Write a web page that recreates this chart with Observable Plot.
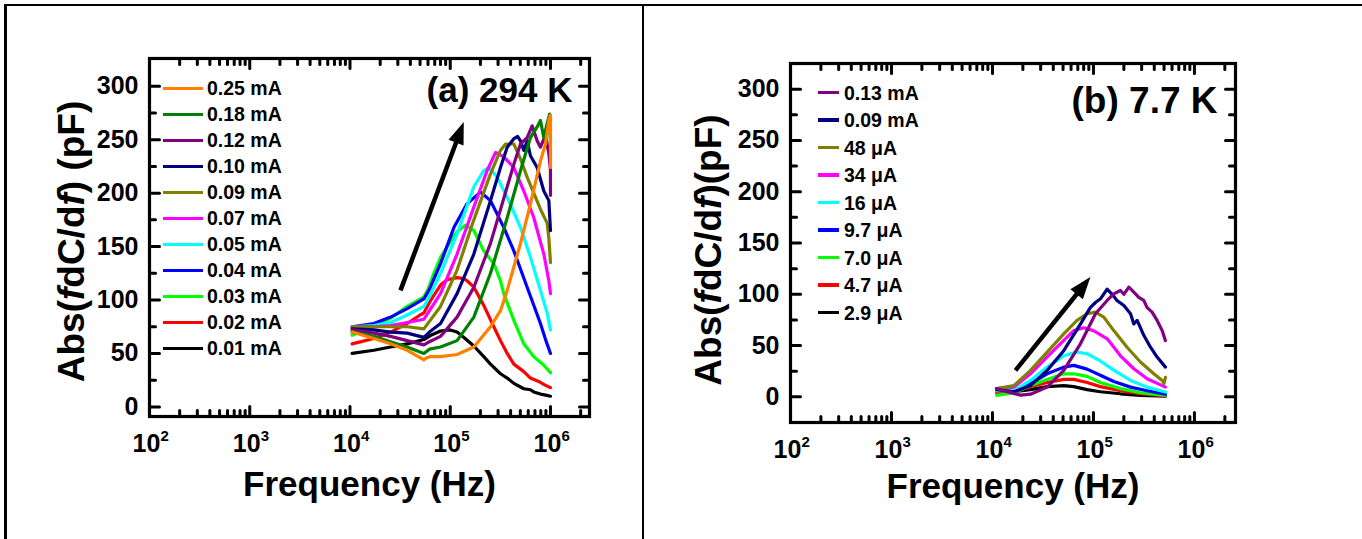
<!DOCTYPE html>
<html><head><meta charset="utf-8">
<script src="https://cdn.jsdelivr.net/npm/d3@7"></script>
<script src="https://cdn.jsdelivr.net/npm/@observablehq/plot@0.6"></script>
<style>
body{margin:0;background:#fff;}
#wrap{position:relative;width:1362px;height:539px;overflow:hidden;background:#fff;font-family:"Liberation Sans",Arial,Helvetica,sans-serif;font-weight:bold;color:#000;}
.panel{position:absolute;top:0;}
.bl{position:absolute;background:#000;}
</style></head>
<body><div id="wrap"></div>
<script>
// ---------- tick labels ----------
const xTickExponents = [2, 3, 4, 5, 6];
const yTicks = [0, 50, 100, 150, 200, 250, 300];

// ---------- Panel (a) 294 K ----------
const aLabels = ["0.25 mA","0.18 mA","0.12 mA","0.10 mA","0.09 mA","0.07 mA","0.05 mA","0.04 mA","0.03 mA","0.02 mA","0.01 mA"];
const aColors = ["#FF8000","#008000","#800080","#000080","#808000","#FF00FF","#00FFFF","#0000FF","#00FF00","#FF0000","#000000"];
const a025 = [[1.05e4,70],[1.73e4,64],[2.54e4,59],[3.72e4,53],[5.46e4,44],[5.8e4,46],[6.37e4,47],[8.0e4,47],[1.17e5,49],[1.72e5,56],[2.52e5,75],[3.17e5,90],[3.70e5,109],[5.02e5,153],[6.31e5,190],[7.94e5,230],[8.91e5,246],[9.63e5,268],[1.0e6,273],[1.0e6,224]];
const a018 = [[1.05e4,70],[1.73e4,66],[2.54e4,61],[3.72e4,56],[5.46e4,50],[6.2e4,54],[8.0e4,56],[1.17e5,62],[1.72e5,84],[2.52e5,125],[3.70e5,177],[5.02e5,221],[6.31e5,252],[7.36e5,262],[7.94e5,268],[8.58e5,252],[9.26e5,265],[9.8e5,274],[1.0e6,245]];
const a012 = [[1.05e4,72],[1.73e4,69],[2.54e4,66],[3.72e4,62],[5.46e4,58],[6.2e4,61],[8.0e4,66],[1.17e5,84],[1.72e5,112],[2.52e5,153],[3.70e5,206],[4.31e5,227],[5.02e5,246],[5.85e5,252],[6.56e5,263],[7.36e5,249],[7.94e5,243],[8.91e5,254],[9.63e5,237],[1.0e6,221],[1.0e6,198]];
const a010 = [[1.05e4,73],[1.73e4,72],[2.54e4,70],[3.72e4,69],[5.46e4,65],[6.2e4,70],[8.0e4,78],[1.17e5,106],[1.72e5,143],[2.52e5,193],[3.17e5,224],[3.70e5,243],[4.31e5,251],[4.7e5,253],[5.02e5,249],[5.42e5,240],[5.85e5,249],[6.31e5,235],[7.36e5,224],[8.58e5,202],[9.63e5,193],[1.0e6,165]];
const a009 = [[1.05e4,75],[1.73e4,75],[2.54e4,75],[3.72e4,75],[5.46e4,73],[6.2e4,80],[8.0e4,94],[1.17e5,128],[1.72e5,175],[2.52e5,218],[3.17e5,240],[3.56e5,246],[4.31e5,246],[5.02e5,232],[5.85e5,215],[6.82e5,200],[7.94e5,185],[9.26e5,172],[9.63e5,158],[1.0e6,135]];
const a007 = [[1.05e4,75],[1.73e4,75],[2.54e4,76],[3.72e4,79],[5.46e4,82],[6.2e4,90],[8.0e4,106],[1.17e5,143],[1.72e5,187],[2.33e5,221],[2.83e5,238],[3.42e5,234],[4.31e5,224],[5.42e5,202],[6.82e5,177],[8.58e5,143],[9.63e5,118],[1.0e6,106]];
const a005 = [[1.05e4,75],[1.73e4,76],[2.54e4,79],[3.72e4,86],[5.46e4,94],[6.2e4,103],[8.0e4,125],[1.17e5,162],[1.72e5,206],[2.16e5,221],[2.43e5,224],[2.94e5,215],[3.70e5,196],[5.02e5,168],[6.31e5,140],[7.94e5,109],[9.26e5,88],[1.0e6,72]];
const a004 = [[1.05e4,75],[1.73e4,78],[2.54e4,84],[3.72e4,92],[5.46e4,101],[6.2e4,110],[8.0e4,134],[1.09e5,168],[1.47e5,190],[2.0e5,201],[2.52e5,193],[3.42e5,168],[4.31e5,146],[5.85e5,112],[7.94e5,78],[9.0e5,62],[1.0e6,50]];
const a003 = [[1.05e4,67],[1.73e4,75],[2.54e4,83],[3.72e4,94],[5.46e4,103],[6.0e4,110],[6.87e4,125],[8.0e4,140],[9.33e4,150],[1.17e5,164],[1.42e5,170],[1.72e5,165],[2.16e5,146],[2.72e5,134],[3.17e5,118],[3.42e5,106],[4.31e5,81],[5.42e5,59],[6.82e5,47],[8.58e5,39],[1.0e6,32]];
const a002 = [[1.05e4,59],[1.73e4,64],[2.54e4,70],[3.72e4,78],[5.0e4,86],[5.46e4,88],[6.4e4,100],[8.0e4,114],[9.3e4,119],[1.17e5,121],[1.37e5,120],[1.47e5,118],[1.72e5,112],[2.16e5,95],[2.72e5,75],[3.17e5,62],[3.70e5,50],[4.31e5,40],[5.42e5,33],[6.31e5,27],[7.94e5,23],[9.0e5,20],[1.0e6,18]];
const a001 = [[1.05e4,50],[1.73e4,53],[2.54e4,56],[3.72e4,59],[5.46e4,63],[6.4e4,67],[8.0e4,71],[1.0e5,72],[1.17e5,70],[1.37e5,65],[1.72e5,57],[2.16e5,47],[2.52e5,40],[3.17e5,31],[3.70e5,27],[4.31e5,22],[5.42e5,17],[6.31e5,16],[6.8e5,14],[7.94e5,12],[9.0e5,11],[1.0e6,10]];
const aSeries = [a025, a018, a012, a010, a009, a007, a005, a004, a003, a002, a001];
const aArrow = [{x1: 3.19e4, y1: 109, x2: 1.365e5, y2: 266.5}];

// ---------- Panel (b) 7.7 K ----------
const bLabels = ["0.13 mA","0.09 mA","48 \u03bcA","34 \u03bcA","16 \u03bcA","9.7 \u03bcA","7.0 \u03bcA","4.7 \u03bcA","2.9 \u03bcA"];
const bColors = ["#800080","#000080","#808000","#FF00FF","#00FFFF","#0000FF","#00FF00","#FF0000","#000000"];
const b013 = [[1.1e4,8],[1.4e4,5],[1.9e4,1.6],[2.38e4,2.6],[3.48e4,9.5],[5.08e4,25.8],[7.43e4,51.7],[1.047e5,81],[1.366e5,94],[1.59e5,100.4],[1.85e5,103.7],[2.0e5,100],[2.24e5,107],[2.51e5,102],[2.81e5,97],[3.15e5,94],[3.40e5,87],[3.81e5,82.6],[4.27e5,74.5],[4.79e5,64.6],[5.16e5,54.8]];
const b009 = [[1.1e4,7],[1.63e4,5],[2.38e4,11],[3.48e4,25.8],[5.08e4,45],[7.43e4,71],[9.3e4,87],[1.047e5,92],[1.173e5,95.6],[1.366e5,105],[1.53e5,100],[1.71e5,94],[2.0e5,89],[2.33e5,81],[2.51e5,71],[2.71e5,74.5],[3.15e5,60],[3.67e5,48.4],[4.27e5,38.8],[5.16e5,29]];
const b48 = [[1.1e4,8],[1.63e4,11],[2.38e4,25.8],[3.48e4,43.6],[5.08e4,61.4],[6.87e4,74.5],[8.65e4,81],[1.047e5,82.6],[1.264e5,77.8],[1.59e5,64.6],[2.15e5,48.4],[2.92e5,34],[3.96e5,22.5],[4.79e5,16],[5.0e5,13],[5.16e5,19]];
const b34 = [[1.1e4,8],[1.63e4,9.5],[2.38e4,22.5],[3.48e4,39],[5.08e4,55],[6.38e4,64.6],[8.0e4,67.3],[1.0e5,64.6],[1.37e5,56.6],[1.85e5,40],[2.51e5,27.4],[3.40e5,17.7],[5.16e5,9.5]];
const b16 = [[1.1e4,6],[1.63e4,6],[2.38e4,16],[3.48e4,29],[5.08e4,40],[6.87e4,43.6],[8.65e4,42],[1.17e5,35],[1.59e5,26],[2.33e5,16],[3.40e5,9.5],[5.16e5,4.7]];
const b97 = [[1.1e4,8],[1.63e4,6],[2.38e4,13],[3.48e4,22.5],[5.08e4,29],[6.38e4,30.7],[8.65e4,27],[1.17e5,21],[1.59e5,15],[2.33e5,9.5],[3.40e5,6],[5.16e5,2.5]];
const b70 = [[1.1e4,1.5],[1.63e4,4],[2.38e4,11],[3.48e4,17],[5.08e4,22.5],[6.38e4,22.5],[8.65e4,20],[1.17e5,14],[1.85e5,8],[2.92e5,4],[5.16e5,1.5]];
const b47 = [[1.1e4,4],[1.63e4,5],[2.38e4,10],[3.48e4,14],[5.08e4,17],[6.38e4,17],[8.65e4,14],[1.17e5,10],[1.85e5,6],[2.92e5,3],[5.16e5,1]];
const b29 = [[1.1e4,6],[1.63e4,5],[2.38e4,7],[3.48e4,10],[5.08e4,11],[6.38e4,10],[8.65e4,7],[1.17e5,5],[1.85e5,3],[2.92e5,1.5],[5.16e5,0.6]];
const bSeries = [b013, b009, b48, b34, b16, b97, b70, b47, b29];
const bArrow = [{x1: 1.69e4, y1: 25.8, x2: 9.33e4, y2: 116.8}];

// ---------- helpers ----------
const FONT = '"Liberation Sans", Arial, Helvetica, sans-serif';
function headSymbol(deg) {
  const a = deg * Math.PI / 180, c = Math.cos(a), s = Math.sin(a);
  const pts = [[0, 0], [-8, 22], [8, 22]].map(([px, py]) => [px * c - py * s, px * s + py * c]);
  return {draw(ctx) { ctx.moveTo(...pts[0]); ctx.lineTo(...pts[1]); ctx.lineTo(...pts[2]); ctx.closePath(); }};
}

function makePanel(cfg) {
  const fw = cfg.width - cfg.ml - cfg.mr, fh = cfg.height - cfg.mt - cfg.mb;
  const [xMin, xMax] = cfg.xDomain, [yMin, yMax] = cfg.yDomain;
  const ky = (yMax - yMin) / fh;
  const kx = Math.log10(xMax / xMin) / fw;
  const xMajor = xTickExponents.map(e => 10 ** e);
  const xMinor = [];
  for (const e of xTickExponents) for (let m = 2; m <= 9; m++) { const v = m * 10 ** e; if (v < xMax * 0.98) xMinor.push(v); }
  const yMinor = d3.range(-25, yMax, 50).filter(v => v > yMin + 2 && v < yMax - 2);
  const tk = {stroke: "#000", strokeWidth: 3, strokeLinecap: "round"};
  const MAJ = 10, MIN = 6;
  const marks = [];
  for (let i = cfg.series.length - 1; i >= 0; i--) {
    marks.push(Plot.line(cfg.series[i], {x: d => d[0], y: d => d[1], stroke: cfg.colors[i], strokeWidth: 3.2, strokeLinejoin: "round"}));
  }
  marks.push(
    Plot.frame({stroke: "#000", strokeWidth: 3.2}),
    // inward ticks on all four sides
    Plot.link(xMajor, {x1: d => d, x2: d => d, y1: () => yMin, y2: () => yMin + MAJ * ky, ...tk}),
    Plot.link(xMajor, {x1: d => d, x2: d => d, y1: () => yMax - MAJ * ky, y2: () => yMax, ...tk}),
    Plot.link(xMinor, {x1: d => d, x2: d => d, y1: () => yMin, y2: () => yMin + MIN * ky, ...tk}),
    Plot.link(xMinor, {x1: d => d, x2: d => d, y1: () => yMax - MIN * ky, y2: () => yMax, ...tk}),
    Plot.link(yTicks, {y1: d => d, y2: d => d, x1: () => xMin, x2: () => xMin * 10 ** (MAJ * kx), ...tk}),
    Plot.link(yTicks, {y1: d => d, y2: d => d, x1: () => xMax / 10 ** (MAJ * kx), x2: () => xMax, ...tk}),
    Plot.link(yMinor, {y1: d => d, y2: d => d, x1: () => xMin, x2: () => xMin * 10 ** (MIN * kx), ...tk}),
    Plot.link(yMinor, {y1: d => d, y2: d => d, x1: () => xMax / 10 ** (MIN * kx), x2: () => xMax, ...tk}),
    // tick labels
    Plot.text(yTicks, {y: d => d, frameAnchor: "left", dx: -11, textAnchor: "end", text: d => String(d), fontSize: 25, fontWeight: "bold", fill: "#000"}),
    Plot.text(xTickExponents, {x: e => 10 ** e, frameAnchor: "bottom", dx: -3, dy: 35, lineAnchor: "bottom", textAnchor: "middle", text: () => "10", fontSize: 25, fontWeight: "bold", fill: "#000"}),
    Plot.text(xTickExponents, {x: e => 10 ** e, frameAnchor: "bottom", dx: 11, dy: 24, lineAnchor: "bottom", textAnchor: "start", text: e => String(e), fontSize: 15, fontWeight: "bold", fill: "#000"}),
    // axis titles
    Plot.text(["Frequency (Hz)"], {frameAnchor: "bottom", dy: cfg.xTitleDy, lineAnchor: "bottom", textAnchor: "middle", fontSize: 35, fontWeight: "bold", fill: "#000"}),
    Plot.text([cfg.yTitle], {frameAnchor: "left", rotate: -90, dx: cfg.yTitleDx, dy: cfg.yTitleDy, lineAnchor: "bottom", textAnchor: "middle", fontSize: 37, fontWeight: "bold", fill: "#000"}),
    // panel label
    Plot.text([cfg.label], {frameAnchor: "top-right", dx: cfg.labelDx, dy: cfg.labelDy, textAnchor: "end", lineAnchor: "bottom", fontSize: cfg.labelSize, fontWeight: "bold", fill: "#000"}),
    // arrow
    Plot.arrow(cfg.arrow, {x1: "x1", y1: "y1", x2: "x2", y2: "y2", headLength: 0, insetEnd: 14, stroke: "#000", strokeWidth: 4.5, strokeLinecap: "butt"}),
    Plot.dot(cfg.arrow, {x: "x2", y: "y2", symbol: headSymbol(cfg.arrowAngle), r: 5, fill: "#000", stroke: "none"})
  );
  const svg = Plot.plot({
    width: cfg.width, height: cfg.height,
    marginLeft: cfg.ml, marginRight: cfg.mr, marginTop: cfg.mt, marginBottom: cfg.mb,
    x: {type: "log", domain: cfg.xDomain, axis: null},
    y: {domain: cfg.yDomain, axis: null},
    style: {fontFamily: FONT, background: "transparent", overflow: "visible"},
    marks
  });
  // italic f in the y title
  d3.select(svg).selectAll("text").filter(function () { return this.textContent === cfg.yTitle; }).each(function () {
    const t = d3.select(this);
    t.text(null);
    cfg.yTitleParts.forEach(([s, it]) => t.append("tspan").attr("font-style", it ? "italic" : null).text(s));
  });
  return svg;
}

const wrap = document.getElementById("wrap");
function place(svg, left) { svg.classList.add("panel"); svg.style.left = left + "px"; wrap.appendChild(svg); }

place(makePanel({
  series: aSeries, colors: aColors, width: 641, height: 539, ml: 149, mr: 52, mt: 58, mb: 123,
  xDomain: [100, 2.45e6], yDomain: [-9, 326],
  xTitleDy: 79, yTitle: "Abs(fdC/df) (pF)", yTitleParts: [["Abs(",0],["f",1],["dC/d",0],["f",1],[") (pF)",0]],
  yTitleDx: -66, yTitleDy: 4, label: "(a) 294 K", labelSize: 35, labelDx: -17, labelDy: 43,
  arrow: aArrow, arrowAngle: 20.6
}), 0);

place(makePanel({
  series: bSeries, colors: bColors, width: 721, height: 539, ml: 149, mr: 127, mt: 63, mb: 117,
  xDomain: [100, 2.55e6], yDomain: [-25, 325],
  xTitleDy: 75, yTitle: "Abs(fdC/df)(pF)", yTitleParts: [["Abs(",0],["f",1],["dC/d",0],["f",1],[")(pF)",0]],
  yTitleDx: -70, yTitleDy: 7, label: "(b) 7.7 K", labelSize: 37, labelDx: -18, labelDy: 49,
  arrow: bArrow, arrowAngle: 38.8
}), 641);

// legends (inside the frames)
function addLegend(labels, colors, o) {
  labels.forEach((lab, i) => {
    const y = o.y0 + o.dy * i;
    const ln = document.createElement("div");
    ln.style.cssText = `position:absolute;left:${o.x0}px;top:${y - o.lw / 2}px;width:${o.x1 - o.x0}px;height:${o.lw}px;background:${colors[i]};`;
    const tx = document.createElement("div");
    tx.style.cssText = `position:absolute;left:${o.xt}px;top:${y - 10}px;line-height:20px;font-size:${o.fs}px;font-weight:bold;white-space:nowrap;`;
    tx.textContent = lab;
    wrap.appendChild(ln); wrap.appendChild(tx);
  });
}
addLegend(aLabels, aColors, {x0: 163, x1: 203, xt: 207, y0: 88.3, dy: 26, fs: 19.5, lw: 3});
addLegend(bLabels, bColors, {x0: 818, x1: 839, xt: 844, y0: 92.5, dy: 27.5, fs: 19.5, lw: 3.5});

// outer border lines
[["left:4px;top:4px;width:1358px;height:2px"], ["left:4px;top:4px;width:2.5px;height:535px"], ["left:641.5px;top:4px;width:2px;height:535px"]]
  .forEach(([css]) => { const d = document.createElement("div"); d.className = "bl"; d.style.cssText += css; wrap.appendChild(d); });
</script>
</body></html>
